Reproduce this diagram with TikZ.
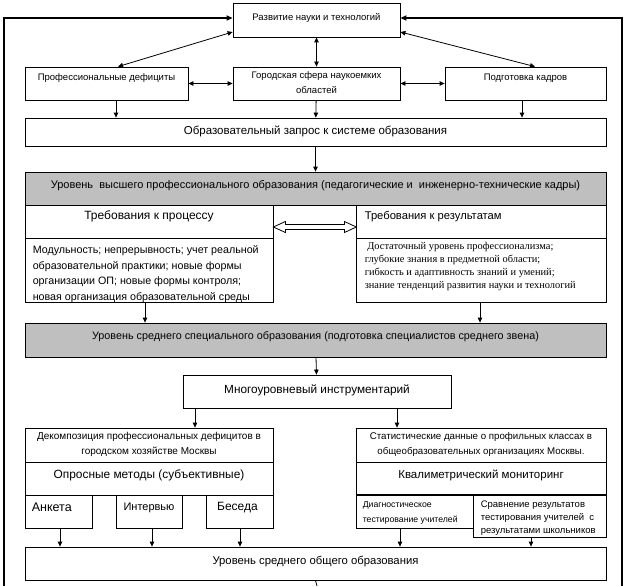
\documentclass[tikz,border=0pt]{standalone}
\usepackage{fontspec}
\setmainfont{Liberation Sans}
\newfontfamily\serifru{Liberation Serif}
\usetikzlibrary{arrows.meta,calc,fit}
\newcommand\fs[2]{\fontsize{#1}{#2}\selectfont}
\begin{document}
\begin{tikzpicture}[x=1pt,y=-1pt,
  box/.style={draw=black,line width=0.8pt,inner sep=0pt},
  greybox/.style={box,fill=black!25},
  txt/.style={inner sep=0pt,align=center},
  ltxt/.style={inner sep=0pt,align=left},
  arr/.style={line width=0.8pt,-{Triangle[length=5pt,width=4.5pt]}},
  darr/.style={line width=0.8pt,{Triangle[length=5pt,width=4.5pt]}-{Triangle[length=5pt,width=4.5pt]}},
  frame/.style={line width=2pt,-{Triangle[length=6pt,width=5pt]}}]
\useasboundingbox (0,0) rectangle (626,586);
% boxes
\node[box,fit={(233,3) (400,37)}] (top) {};
\node[txt,font=\fs{9.5}{12}] (topt) at ($(top.center)+(0,-2)$) {Развитие науки и технологий};
\node[box,fit={(25,67) (188,100)}] (prof) {};
\node[txt,font=\fs{9.5}{12}] (proft) at ($(prof.center)+(0,-5)$) {Профессиональные дефициты};
\node[box,fit={(233,67) (400,100)}] (gor) {};
\node[txt,font=\fs{9.5}{15}] (gort) at ($(gor.center)+(0,-1)$) {Городская сфера наукоемких\\областей};
\node[box,fit={(445,67) (606,100)}] (podg) {};
\node[txt,font=\fs{9.5}{12}] (podgt) at ($(podg.center)+(0,-5)$) {Подготовка кадров};
\node[box,fit={(25,118) (606,146)}] (obr) {};
\node[txt,font=\fs{11.5}{14}] (obrt) at ($(obr.center)+(0,-1)$) {Образовательный запрос к системе образования};
\node[greybox,fit={(25,172) (606,205)}] (vys) {};
\node[txt,font=\fs{11}{13}] (vyst) at ($(vys.center)+(0,-3)$) {Уровень\ \ высшего профессионального образования (педагогические и\ \ инженерно-технические кадры)};
\node[box,fit={(25,205) (273,238)}] (reqL) {};
\node[box,fit={(356,205) (606,238)}] (reqR) {};
\node[box,fit={(25,238) (273,302)}] (bodyL) {};
\node[box,fit={(356,238) (606,302)}] (bodyR) {};
\node[txt,font=\fs{12}{14}] (reqLt) at ($(reqL.center)+(0,-5)$) {Требования к процессу};
\node[ltxt,anchor=west,font=\fs{11.2}{14}] (reqRt) at ($(reqR.west)+(9,-5)$) {Требования к результатам};
\node[ltxt,anchor=north west,font=\fs{10.7}{15.5}] (bodyLt) at ($(bodyL.north west)+(8,8)$) {Модульность; непрерывность; учет реальной\\образовательной практики; новые формы\\организации ОП; новые формы контроля;\\новая организация образовательной среды};
\node[ltxt,anchor=north west,font=\serifru\fs{10.4}{13}] (bodyRt) at ($(bodyR.north west)+(9,4.5)$) {\ Достаточный уровень профессионализма;\\глубокие знания в предметной области;\\гибкость и адаптивность знаний и умений;\\знание тенденций развития науки и технологий};
\node[greybox,fit={(25,323) (606,357)}] (spec) {};
\node[txt,font=\fs{10.8}{13}] (spect) at ($(spec.center)+(0,-3)$) {Уровень среднего специального образования (подготовка специалистов среднего звена)};
\node[box,fit={(183,375) (451,408)}] (multi) {};
\node[txt,font=\fs{11.8}{14}] (multit) at ($(multi.center)+(0,-1)$) {Многоуровневый инструментарий};
\node[box,fit={(25,428) (273,462)}] (dec) {};
\node[txt,font=\fs{10}{15}] (dect) at ($(dec.center)+(0,-0.5)$) {Декомпозиция профессиональных дефицитов в\\городском хозяйстве Москвы};
\node[box,fit={(356,428) (606,462)}] (stat) {};
\node[txt,font=\fs{9.7}{15}] (statt) at ($(stat.center)+(0,-0.5)$) {Статистические данные о профильных классах в\\общеобразовательных организациях Москвы.};
\node[box,fit={(25,462) (273,495)}] (opr) {};
\node[txt,font=\fs{11.9}{14}] (oprt) at ($(opr.center)+(0,-3)$) {Опросные методы (субъективные)};
\node[box,fit={(356,462) (606,495)}] (kval) {};
\node[txt,font=\fs{11.5}{14}] (kvalt) at ($(kval.center)+(0,-3)$) {Квалиметрический мониторинг};
\draw[line width=2pt] (kval.south west) -- (kval.south east);
\node[box,fit={(25,495) (92,528)}] (ank) {};
\node[ltxt,anchor=west,font=\fs{12.5}{14}] (ankt) at ($(ank.west)+(7,-4)$) {Анкета};
\node[box,fit={(116,495) (182,528)}] (int) {};
\node[txt,font=\fs{11}{14}] (intt) at ($(int.center)+(0,-4)$) {Интервью};
\node[box,fit={(206,495) (273,528)}] (bes) {};
\node[txt,font=\fs{12}{14}] (best) at ($(bes.center)+(-2,-4)$) {Беседа};
\node[box,fit={(356,495) (473,528)}] (diag) {};
\node[ltxt,anchor=north west,font=\fs{8.7}{15}] (diagt) at ($(diag.north west)+(7,7)$) {Диагностическое\\тестирование учителей};
\node[box,fit={(473,495) (606,537)}] (srav) {};
\node[ltxt,anchor=north west,font=\fs{9.5}{13}] (sravt) at ($(srav.north west)+(8,6.5)$) {Сравнение результатов\\тестирования учителей\ \ с\\результатами школьников};
\node[box,fit={(25,547) (606,580)}] (bot) {};
\node[txt,font=\fs{11.3}{14}] (bott) at ($(bot.center)+(0,-2)$) {Уровень среднего общего образования};
% coordinates
\coordinate (fbl) at (4,586);
\coordinate (fbr) at (622,586);
\coordinate (bend) at (317,586);
\coordinate (x116) at (116,0);
\coordinate (x522) at (522,0);
\coordinate (x145) at (145,0);
\coordinate (x480) at (480,0);
\coordinate (x195) at (195,0);
\coordinate (x397) at (397,0);
\coordinate (x60) at (60,0);
\coordinate (x152) at (152,0);
\coordinate (x240) at (240,0);
\coordinate (x400) at (400,0);
\coordinate (x531) at (531,0);
\coordinate (x118) at (118,0);
\coordinate (x535) at (535,0);
% frame
\draw[frame] (fbl) |- ($(top.west)+(0,-2)$);
\draw[frame] (fbr) |- ($(top.east)+(0,-2)$);
% top links
\draw[darr] (top) -- (gor);
\draw[darr] ($(top.west)+(0,12)$) -- (prof.north -| x118);
\draw[darr] ($(top.east)+(0,12)$) -- (podg.north -| x535);
\draw[darr] (prof) -- (gor);
\draw[darr] (gor) -- (podg);
\draw[arr] (prof.south -| x116) -- (obr.north -| x116);
\draw[arr] (gor) -- (obr);
\draw[arr] (podg.south -| x522) -- (obr.north -| x522);
\draw[arr] (obr) -- (vys);
% hollow double arrow
\coordinate (ha) at ($(reqL.east)+(0,5.5)$);
\draw[line width=0.8pt,fill=white] (ha) -- ++(12,-5.5) -- ++(0,3) -- ++(59,0) -- ++(0,-3) -- ++(12,5.5) -- ++(-12,5.5) -- ++(0,-3) -- ++(-59,0) -- ++(0,3) -- cycle;
\draw[arr] (bodyL.south -| x145) -- (spec.north -| x145);
\draw[arr] (bodyR.south -| x480) -- (spec.north -| x480);
\draw[arr] (spec) -- (multi);
\draw[arr] (multi.south -| x195) -- (dec.north -| x195);
\draw[arr] (multi.south -| x397) -- (stat.north -| x397);
\draw[arr] (ank.south -| x60) -- (bot.north -| x60);
\draw[arr] (int.south -| x152) -- (bot.north -| x152);
\draw[arr] (bes.south -| x240) -- (bot.north -| x240);
\draw[arr] (diag.south -| x400) -- (bot.north -| x400);
\draw[arr] (srav.south -| x531) -- (bot.north -| x531);
\draw[line width=0.8pt] (bot.south) -- (bend);
\end{tikzpicture}
\end{document}
